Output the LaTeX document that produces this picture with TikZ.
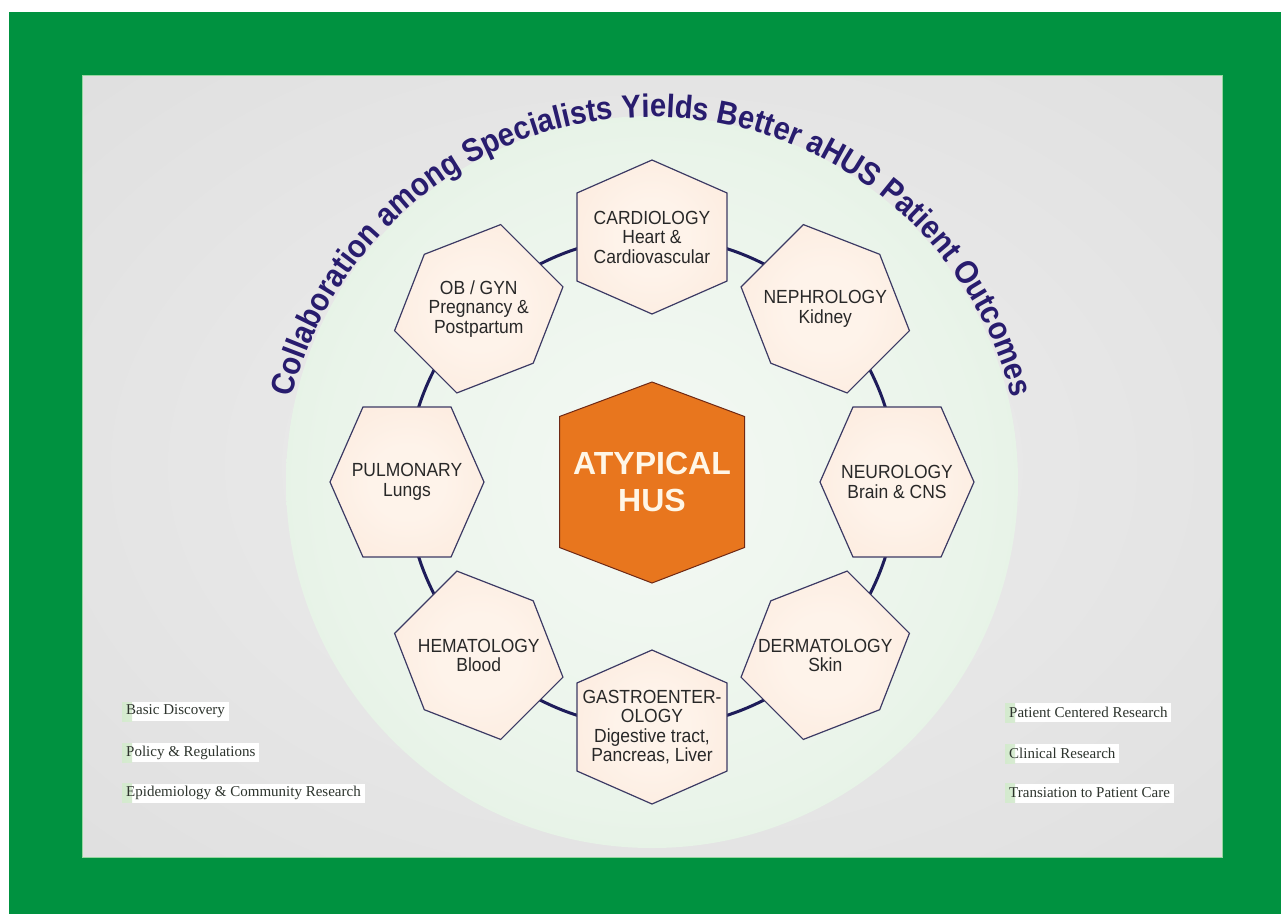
\documentclass[tikz,border=0pt]{standalone}
\usepackage{fontspec}
\setmainfont{Liberation Sans}
\newfontfamily\serifl{Liberation Serif}
\newfontfamily\titleff{Liberation Sans}[FakeStretch=0.9]
\newfontfamily\hexff{Liberation Sans}[FakeStretch=0.92]
\usetikzlibrary{decorations.text,calc}
\definecolor{frameg}{RGB}{0,146,64}
\definecolor{navy}{RGB}{40,28,110}
\definecolor{ringc}{RGB}{30,28,90}
\definecolor{hexfill}{RGB}{251,230,215}
\definecolor{hexin}{RGB}{254,243,234}
\definecolor{hexline}{RGB}{60,58,100}
\definecolor{orng}{RGB}{232,118,30}
\definecolor{orngline}{RGB}{110,40,20}
\definecolor{atext}{RGB}{255,246,230}
\definecolor{panelout}{RGB}{208,208,208}
\definecolor{panelmid}{RGB}{226,226,226}
\definecolor{panelin}{RGB}{238,238,238}
\definecolor{diskout}{RGB}{208,234,208}
\definecolor{diskmid}{RGB}{234,244,234}
\definecolor{diskin}{RGB}{244,249,244}
\definecolor{lblg}{RGB}{212,234,206}
\definecolor{lbltext}{RGB}{45,52,45}
\definecolor{hextxt}{RGB}{40,40,40}
\definecolor{edgeg}{RGB}{150,215,160}
\pgfdeclareradialshading{panelshade}{\pgfpoint{0bp}{0bp}}{color(0bp)=(panelin); color(30bp)=(panelmid); color(72bp)=(panelout); color(100bp)=(panelout)}
\pgfdeclareradialshading{diskshade}{\pgfpoint{0bp}{0bp}}{color(0bp)=(diskin); color(22bp)=(diskmid); color(50bp)=(diskout); color(100bp)=(diskout)}
\pgfdeclareradialshading{hexshade}{\pgfpoint{0bp}{0bp}}{color(0bp)=(hexin); color(12bp)=(hexin); color(45bp)=(hexfill); color(100bp)=(hexfill)}
\newcommand{\titlefnt}{\color{navy}\titleff\bfseries\fontsize{32.5}{33}\selectfont}
\tikzset{
  hexbox/.style={shading=hexshade, draw=hexline, line width=1.2},
  hextext/.style={align=center, text=hextxt, inner sep=0, font=\hexff\fontsize{19}{19.5}\selectfont},
  lbl/.style={anchor=west, fill=white, inner xsep=4, inner ysep=0, minimum height=19,
    font=\serifl\fontsize{15}{16}\selectfont, text=lbltext,
    path picture={\shade[left color=lblg, right color=white]
      (path picture bounding box.south west) rectangle ([xshift=10pt]path picture bounding box.north west);}}
}
\begin{document}
\begin{tikzpicture}[x=1pt,y=1pt]
\fill[white] (0,0) rectangle (1281,-914);
\useasboundingbox (0,0) rectangle (1281,-914);
\fill[frameg] (9,-12) rectangle (1281,-914);
\shade[shading=panelshade] (82,-75) rectangle (1222,-857);
\draw[edgeg, line width=1] (82,-75) rectangle (1222,-857);
\shade[shading=diskshade] (652,-482) circle[radius=366];
\coordinate (ctr) at (652,-482);
\draw[ringc, line width=3] (ctr) circle[radius=245];
\foreach \ang/\nm/\txt in {
  90/card/{CARDIOLOGY\\Heart \&\\Cardiovascular},
  45/neph/{NEPHROLOGY\\Kidney},
  0/neur/{NEUROLOGY\\Brain \& CNS},
  -45/derm/{DERMATOLOGY\\Skin},
  -90/gast/{GASTROENTER-\\OLOGY\\Digestive tract,\\Pancreas, Liver},
  -135/hema/{HEMATOLOGY\\Blood},
  180/pulm/{PULMONARY\\Lungs},
  135/obgy/{OB / GYN\\Pregnancy \&\\Postpartum}}{
  \coordinate (\nm c) at ($(ctr)+(\ang:245)$);
  \shadedraw[hexbox] ($(\nm c)+(\ang:77)$) -- ($(\nm c)+(\ang+59.6:87)$) -- ($(\nm c)+(\ang+120.4:87)$)
     -- ($(\nm c)+(\ang+180:77)$) -- ($(\nm c)+(\ang+239.6:87)$) -- ($(\nm c)+(\ang+300.4:87)$) -- cycle;
  \node[hextext] (\nm) at (\nm c) {\txt};
}
\filldraw[fill=orng, draw=orngline, line width=1] (652,-382) -- (744.5,-416.5) -- (744.5,-547.5) -- (652,-583) -- (559.5,-547.5) -- (559.5,-416.5) -- cycle;
\node[align=center, text=atext, inner sep=0, font=\bfseries\fontsize{32}{37}\selectfont] (atyp) at (652,-482) {ATYPICAL\\HUS};
\path[decorate, decoration={text along path, text align=center,
  text={|\titlefnt|Collaboration among Specialists Yields Better aHUS Patient Outcomes}}]
  ($(652,-488)+(175:371)$) arc[start angle=175, end angle=5, radius=371];
\node[lbl] (l1) at (122,-711.5) {Basic Discovery\hspace{5pt}};
\node[lbl] (l2) at (122,-752.5) {Policy \& Regulations\hspace{10pt}};
\node[lbl] (l3) at (122,-793) {Epidemiology \& Community Research\hspace{8pt}};
\node[lbl] (r1) at (1005,-712.5) {Patient Centered Research\hspace{5pt}};
\node[lbl] (r2) at (1005,-753.5) {Clinical Research\hspace{5pt}};
\node[lbl] (r3) at (1005,-793) {Transiation to Patient Care\hspace{5pt}};
\end{tikzpicture}
\end{document}
